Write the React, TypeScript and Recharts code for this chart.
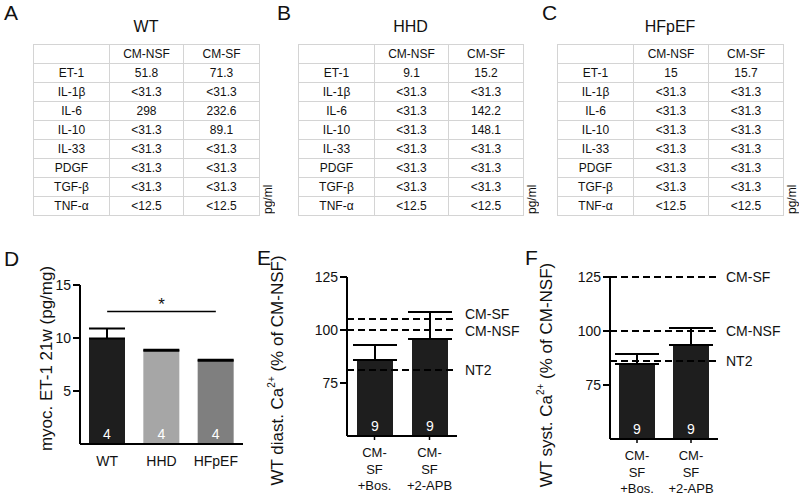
import React from "react";
import {
  BarChart,
  Bar,
  XAxis,
  YAxis,
  ErrorBar,
  Cell,
  LabelList,
  ReferenceLine,
} from "recharts";

const FONT = '"Liberation Sans", Arial, Helvetica, sans-serif';
const INK = "#111";

// tables A-C (pg/ml)
const cytokines = ["ET-1", "IL-1β", "IL-6", "IL-10", "IL-33", "PDGF", "TGF-β", "TNF-α"];
const wtNsf = ["51.8", "<31.3", "298", "<31.3", "<31.3", "<31.3", "<31.3", "<12.5"];
const wtSf = ["71.3", "<31.3", "232.6", "89.1", "<31.3", "<31.3", "<31.3", "<12.5"];
const hhdNsf = ["9.1", "<31.3", "<31.3", "<31.3", "<31.3", "<31.3", "<31.3", "<12.5"];
const hhdSf = ["15.2", "<31.3", "142.2", "148.1", "<31.3", "<31.3", "<31.3", "<12.5"];
const hfpefNsf = ["15", "<31.3", "<31.3", "<31.3", "<31.3", "<31.3", "<31.3", "<12.5"];
const hfpefSf = ["15.7", "<31.3", "<31.3", "<31.3", "<31.3", "<31.3", "<31.3", "<12.5"];

// panel D
const groupsD = ["WT", "HHD", "HFpEF"];
const et1Mean = [9.95, 8.8, 7.85];
const et1Sem = [0.95, 0.1, 0.1];
const et1N = [4, 4, 4];
const colorsD = ["#1e1e1e", "#a6a6a6", "#7f7f7f"];
const sigY = 12.5;

// panels E, F
const treatments = ["CM-SF +Bos.", "CM-SF +2-APB"];
const treatmentTicks = [
  ["CM-", "SF", "+Bos."],
  ["CM-", "SF", "+2-APB"],
];
const diastMean = [85.8, 95.8];
const diastSem = [7.1, 12.7];
const diastN = [9, 9];
const systMean = [84.7, 93.5];
const systSem = [4.7, 7.9];
const systN = [9, 9];
const refNames = ["CM-SF", "CM-NSF", "NT2"];
const diastRef = [105.2, 100, 81.1];
const systRef = [125, 100, 86.1];

const letterStyle = (left: number, top: number): React.CSSProperties => ({
  position: "absolute",
  left,
  top,
  fontSize: 21,
  lineHeight: "21px",
  color: INK,
  fontFamily: FONT,
});

function CytokineTable({
  letter,
  title,
  left,
  letterLeft,
  cols,
  nsf,
  sf,
}: {
  letter: string;
  title: string;
  left: number;
  letterLeft: number;
  cols: number[];
  nsf: string[];
  sf: string[];
}) {
  const width = cols[0] + cols[1] + cols[2];
  const cell: React.CSSProperties = {
    border: "1px solid #d4d4d4",
    padding: 0,
    height: 18,
    textAlign: "center",
    verticalAlign: "middle",
    lineHeight: "17px",
  };
  return (
    <>
      <div style={letterStyle(letterLeft, 2)}>{letter}</div>
      <div
        style={{
          position: "absolute",
          left,
          width,
          top: 19,
          textAlign: "center",
          fontSize: 16,
          lineHeight: "16px",
          color: INK,
          fontFamily: FONT,
        }}
      >
        {title}
      </div>
      <table
        style={{
          position: "absolute",
          left,
          top: 44,
          width,
          borderCollapse: "collapse",
          tableLayout: "fixed",
          fontSize: 12,
          fontFamily: FONT,
          color: INK,
        }}
      >
        <colgroup>
          {cols.map((w, i) => (
            <col key={i} style={{ width: w }} />
          ))}
        </colgroup>
        <tbody>
          <tr>
            <td style={cell}></td>
            <td style={cell}>CM-NSF</td>
            <td style={cell}>CM-SF</td>
          </tr>
          {cytokines.map((c, i) => (
            <tr key={c}>
              <td style={cell}>{c}</td>
              <td style={cell}>{nsf[i]}</td>
              <td style={cell}>{sf[i]}</td>
            </tr>
          ))}
        </tbody>
      </table>
      <div
        style={{
          position: "absolute",
          left: left + width + 2,
          top: 180,
          height: 34,
          width: 14,
          writingMode: "vertical-rl",
          transform: "rotate(180deg)",
          fontSize: 12,
          lineHeight: "14px",
          color: INK,
          fontFamily: FONT,
        }}
      >
        pg/ml
      </div>
    </>
  );
}

const axisLine = { stroke: "#000", strokeWidth: 2 };
const tickStyle = { fill: INK, fontSize: 14, fontFamily: FONT };

const rotLabel =
  (cx: number, shift: number, main: string, sup?: string, rest?: string) =>
  (props: any) => {
    const vb = props.viewBox || { y: 0, height: 0 };
    const cy = vb.y + vb.height / 2 + shift;
    return (
      <text
        x={cx}
        y={cy}
        transform={`rotate(-90 ${cx} ${cy})`}
        textAnchor="middle"
        dominantBaseline="central"
        fontSize={17}
        fill={INK}
        fontFamily={FONT}
      >
        {main}
        {sup ? (
          <tspan fontSize={10} baselineShift="super">
            {sup}
          </tspan>
        ) : null}
        {rest}
      </text>
    );
  };

const refLabel = (name: string, dy: number) => (props: any) => {
  const vb = props.viewBox || { x: 0, y: 0, width: 0 };
  return (
    <text
      x={vb.x + vb.width + 8}
      y={vb.y + dy}
      dominantBaseline="central"
      fontSize={14}
      fill={INK}
      fontFamily={FONT}
    >
      {name}
    </text>
  );
};

const MultiLineTick = (props: any) => {
  const { x, y, payload } = props;
  const idx = treatments.indexOf(payload.value);
  const lines = treatmentTicks[idx] || [payload.value];
  return (
    <text x={x} y={y} textAnchor="middle" fontSize={13} fill={INK} fontFamily={FONT}>
      {lines.map((l, i) => (
        <tspan key={i} x={x} dy={i === 0 ? 15 : 16.5}>
          {l}
        </tspan>
      ))}
    </text>
  );
};

function PanelD() {
  const data = groupsD.map((g, i) => ({
    group: g,
    mean: et1Mean[i],
    err: [0, et1Sem[i]],
    n: et1N[i],
  }));
  return (
    <div style={{ position: "absolute", left: 0, top: 250 }}>
      <BarChart
        width={260}
        height={246}
        data={data}
        margin={{ top: 35, right: 17, bottom: 0, left: 0 }}
      >
        <XAxis
          dataKey="group"
          height={52}
          axisLine={axisLine}
          tickLine={false}
          tick={tickStyle}
          tickMargin={6}
          interval={0}
        />
        <YAxis
          width={80}
          domain={[0, 15]}
          ticks={[5, 10, 15]}
          allowDataOverflow
          axisLine={axisLine}
          tickLine={{ stroke: "#000", strokeWidth: 2 }}
          tickSize={7}
          tick={tickStyle}
          label={rotLabel(46, -6, "myoc. ET-1 21w (pg/mg)")}
        />
        <ReferenceLine
          segment={[
            { x: "WT", y: sigY },
            { x: "HFpEF", y: sigY },
          ]}
          stroke="#000"
          strokeWidth={1.5}
          label={{ value: "*", position: "top", fontSize: 17, fill: INK, offset: 2 }}
        />
        <Bar dataKey="mean" barSize={36} isAnimationActive={false}>
          {data.map((d, i) => (
            <Cell key={d.group} fill={colorsD[i]} />
          ))}
          <ErrorBar
            dataKey="err"
            width={18}
            stroke="#000"
            strokeWidth={2}
            direction="y"
            isAnimationActive={false}
          />
          <LabelList
            dataKey="n"
            position="insideBottom"
            fill="#fff"
            fontSize={14}
            fontFamily={FONT}
          />
        </Bar>
      </BarChart>
    </div>
  );
}

function CaPanel({
  left,
  yWidth,
  right,
  xHeight,
  mean,
  sem,
  n,
  refs,
  refDy,
  labelMain,
  labelX,
  labelShift,
}: {
  left: number;
  yWidth: number;
  right: number;
  xHeight: number;
  mean: number[];
  sem: number[];
  n: number[];
  refs: number[];
  refDy: number[];
  labelMain: string;
  labelX: number;
  labelShift: number;
}) {
  const data = treatments.map((t, i) => ({
    t,
    mean: mean[i],
    err: [0, sem[i]],
    n: n[i],
  }));
  return (
    <div style={{ position: "absolute", left, top: 250 }}>
      <BarChart
        width={270}
        height={246}
        data={data}
        margin={{ top: 27, right, bottom: 0, left: 0 }}
      >
        <XAxis
          dataKey="t"
          height={xHeight}
          axisLine={axisLine}
          tickLine={{ stroke: "#000", strokeWidth: 1.5 }}
          tickSize={4}
          tick={<MultiLineTick />}
          interval={0}
        />
        <YAxis
          width={yWidth}
          domain={[50, 125]}
          ticks={[75, 100, 125]}
          allowDataOverflow
          axisLine={axisLine}
          tickLine={{ stroke: "#000", strokeWidth: 2 }}
          tickSize={7}
          tick={tickStyle}
          label={rotLabel(labelX, labelShift, labelMain, "2+", " (% of CM-NSF)")}
        />
        {refs.map((v, i) => (
          <ReferenceLine
            key={refNames[i]}
            y={v}
            stroke="#000"
            strokeWidth={2}
            strokeDasharray="7 4"
            label={refLabel(refNames[i], refDy[i])}
          />
        ))}
        <Bar dataKey="mean" barSize={36} fill="#1e1e1e" isAnimationActive={false}>
          <ErrorBar
            dataKey="err"
            width={22}
            stroke="#000"
            strokeWidth={2}
            direction="y"
            isAnimationActive={false}
          />
          <LabelList
            dataKey="n"
            position="insideBottom"
            fill="#fff"
            fontSize={14}
            fontFamily={FONT}
          />
        </Bar>
      </BarChart>
    </div>
  );
}

export default function App() {
  return (
    <div
      style={{
        position: "absolute",
        left: 0,
        top: 0,
        width: 800,
        height: 496,
        background: "#fff",
        overflow: "hidden",
        fontFamily: FONT,
      }}
    >
      <CytokineTable
        letter="A"
        title="WT"
        left={33}
        letterLeft={4}
        cols={[76, 74, 76]}
        nsf={wtNsf}
        sf={wtSf}
      />
      <CytokineTable
        letter="B"
        title="HHD"
        left={298}
        letterLeft={277}
        cols={[76, 74, 75]}
        nsf={hhdNsf}
        sf={hhdSf}
      />
      <CytokineTable
        letter="C"
        title="HFpEF"
        left={557}
        letterLeft={542}
        cols={[76, 75, 75]}
        nsf={hfpefNsf}
        sf={hfpefSf}
      />

      <div style={letterStyle(4, 248)}>D</div>
      <div style={letterStyle(257, 247)}>E</div>
      <div style={letterStyle(525, 247)}>F</div>

      <PanelD />
      <CaPanel
        left={260}
        yWidth={87}
        right={73}
        xHeight={60}
        mean={diastMean}
        sem={diastSem}
        n={diastN}
        refs={diastRef}
        refDy={[-5, 1, 0]}
        labelMain="WT diast. Ca"
        labelX={17}
        labelShift={14}
      />
      <CaPanel
        left={530}
        yWidth={80}
        right={82}
        xHeight={57}
        mean={systMean}
        sem={systSem}
        n={systN}
        refs={systRef}
        refDy={[0, 0, 0]}
        labelMain="WT syst. Ca"
        labelX={16}
        labelShift={17}
      />
    </div>
  );
}
